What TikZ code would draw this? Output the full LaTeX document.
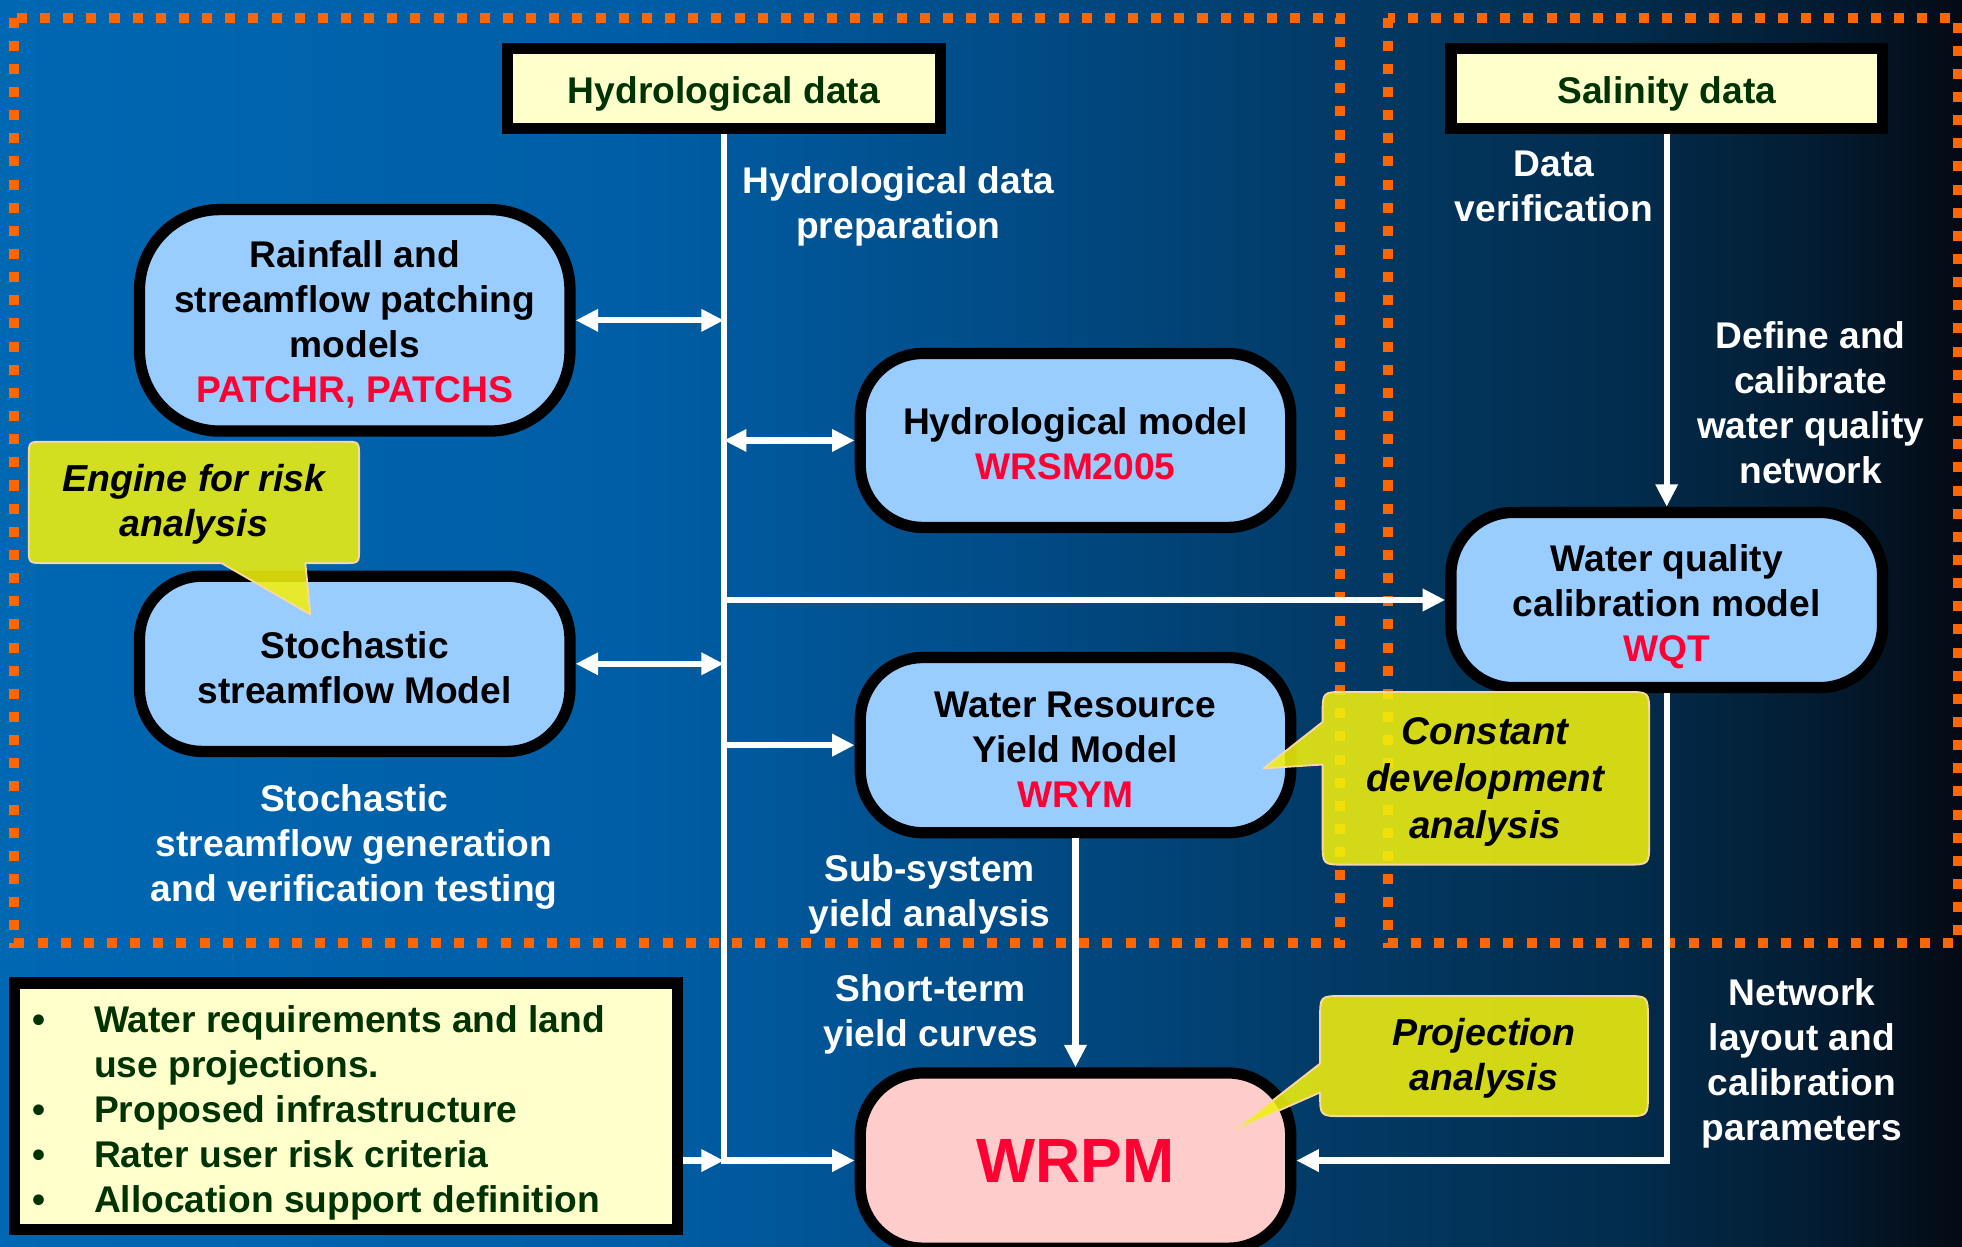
\documentclass[tikz,border=0pt]{standalone}
\usepackage{fontspec}
\setmainfont{Liberation Sans}
\usetikzlibrary{arrows.meta}
\definecolor{bgA}{RGB}{0,103,178}
\definecolor{bgB}{RGB}{0,94,166}
\definecolor{bgC}{RGB}{1,76,135}
\definecolor{bgD}{RGB}{2,56,98}
\definecolor{bgE}{RGB}{2,44,76}
\definecolor{bgF}{RGB}{3,28,50}
\definecolor{bgG}{RGB}{4,10,20}
\definecolor{lblue}{RGB}{153,204,255}
\definecolor{lyel}{RGB}{255,255,204}
\definecolor{lpink}{RGB}{255,204,204}
\definecolor{dgreen}{RGB}{0,51,0}
\definecolor{pred}{RGB}{255,0,51}
\definecolor{dotor}{RGB}{255,102,0}
\definecolor{callf}{RGB}{240,240,14}
\definecolor{callb}{RGB}{250,215,160}
\newcommand\tstr[1]{\rule{0pt}{#1pt}}
\begin{document}
\begin{tikzpicture}[x=1pt,y=-1pt,
  txt/.style={font=\fontsize{29.7}{36}\selectfont\bfseries, align=center},
  lbl/.style={txt, text=white, inner sep=0pt},
  hdr/.style={draw=black, line width=9pt, fill=lyel, minimum width=346pt, minimum height=64pt, inner sep=0pt, txt, text=dgreen},
  model/.style={draw=black, line width=9pt, fill=lblue, rounded corners=50pt, minimum width=344pt, minimum height=140pt, inner sep=0pt, txt},
  conn/.style={draw=white, line width=5pt, -{Triangle[length=18pt,width=17pt]}},
  dbl/.style={draw=white, line width=5pt, {Triangle[length=18pt,width=17pt]}-{Triangle[length=18pt,width=17pt]}},
  dotbox/.style={draw=dotor, line width=8pt, dash pattern=on 8pt off 10.5pt},
  callout/.style={fill=callf, fill opacity=0.88, draw=callb, line width=1.5pt, line join=round},
  calltxt/.style={font=\fontsize{30}{36}\selectfont\bfseries\itshape, align=center, text=black, inner sep=0pt}
]
\useasboundingbox (0,0) rectangle (1568,996);
\clip (0,0) rectangle (1568,996);
% background
\fill[left color=bgA, right color=bgB] (0,0) rectangle (501,996);
\fill[left color=bgB, right color=bgC] (500,0) rectangle (801,996);
\fill[left color=bgC, right color=bgD] (800,0) rectangle (1101,996);
\fill[left color=bgD, right color=bgE] (1100,0) rectangle (1301,996);
\fill[left color=bgE, right color=bgF] (1300,0) rectangle (1451,996);
\fill[left color=bgF, right color=bgG] (1450,0) rectangle (1568,996);
% dotted regions
\draw[dotbox] (11.5,14) rectangle (1071,754);
\draw[dotbox] (1109,14) rectangle (1565,754);
% boxes
\node[hdr] (hyd) at (578.5,70.5) {\tstr{30}Hydrological data};
\node[hdr, minimum width=345pt] (sal) at (1332,70.5) {\tstr{30}Salinity data};
\node[model, minimum height=177pt, rounded corners=64pt] (rain) at (283.5,256) {\tstr{28}Rainfall and\\streamflow patching\\models\\\textcolor{pred}{PATCHR, PATCHS}};
\node[model, minimum height=139pt] (hmod) at (859.5,352) {\tstr{26}Hydrological model\\\textcolor{pred}{WRSM2005}};
\node[model] (stoch) at (283.5,530.5) {\tstr{28}Stochastic\\streamflow Model};
\node[model, minimum width=345pt] (wq) at (1332,479.5) {\tstr{32}Water quality\\calibration model\\\textcolor{pred}{WQT}};
\node[model] (wrym) at (859.5,595.5) {\tstr{27.5}Water Resource\\Yield Model\\\textcolor{pred}{WRYM}};
\node[model, fill=lpink, font=\fontsize{50}{60}\selectfont\bfseries, text=pred] (wrpm) at (859.5,927.5) {WRPM};
\node[draw=black, line width=9pt, fill=lyel, minimum width=530pt, minimum height=197pt] (bul) at (276.5,884) {};
\node[anchor=north west, inner sep=0pt, text=dgreen, font=\fontsize{29.7}{36}\selectfont\bfseries] (bultxt) at (26,799.8)
  {\begin{tabular}{@{}p{49pt}@{}l@{}}
   \textbullet & Water requirements and land\\
    & use projections.\\
   \textbullet & Proposed infrastructure\\
   \textbullet & Rater user risk criteria\\
   \textbullet & Allocation support definition
   \end{tabular}};
% connectors
\coordinate (spine) at (hyd.south);
\draw[conn] (hyd.south) |- (wrpm.west);
\draw[dbl] (rain.east) -- (rain.east -| spine);
\draw[dbl] (hmod.west -| spine) -- (hmod.west);
\draw[conn] (wq.west -| spine) -- (wq.west);
\draw[dbl] (stoch.east) -- (stoch.east -| spine);
\draw[conn] (wrym.west -| spine) -- (wrym.west);
\draw[conn] (bul.east |- wrpm.west) -- (wrpm.west -| spine);
\draw[conn] (sal.south) -- (wq.north);
\draw[conn] (wrym.south) -- (wrpm.north);
\draw[conn] (wq.south) |- (wrpm.east);
% callouts
\path[callout] (35,353) -- (275,353) .. controls (287,353) .. (287,365) -- (287,438) .. controls (287,450) .. (275,450) -- (244,450) -- (248,491) -- (177,450) -- (35,450) .. controls (23,450) .. (23,438) -- (23,365) .. controls (23,353) .. (35,353) -- cycle;
\node[calltxt] (eng) at (155,403) {Engine for risk\\analysis};
\path[callout] (1075,553) -- (1300,553) .. controls (1318,553) .. (1318,571) -- (1318,673) .. controls (1318,691) .. (1300,691) -- (1075,691) .. controls (1057,691) .. (1057,673) -- (1057,611) -- (1010,614) -- (1057,577) -- (1057,571) .. controls (1057,553) .. (1075,553) -- cycle;
\node[calltxt, font=\fontsize{30.8}{37.5}\selectfont\bfseries\itshape] (cda) at (1187,625) {Constant\\development\\analysis};
\path[callout] (1073,796) -- (1299,796) .. controls (1317,796) .. (1317,814) -- (1317,874) .. controls (1317,892) .. (1299,892) -- (1073,892) .. controls (1055,892) .. (1055,874) -- (1055,873) -- (987,903) -- (1055,850) -- (1055,814) .. controls (1055,796) .. (1073,796) -- cycle;
\node[calltxt] (proj) at (1186,846) {Projection\\analysis};
% labels
\node[lbl] (l1) at (718,165) {Hydrological data\\preparation};
\node[lbl] (l2) at (1242,149) {Data\\verification};
\node[lbl] (l3) at (1447,322) {Define and\\calibrate\\water quality\\network};
\node[lbl] (l4) at (283,677) {Stochastic\\streamflow generation\\and verification testing};
\node[lbl] (l5) at (743,715) {Sub-system\\yield analysis};
\node[lbl] (l6) at (744,811) {Short-term\\yield curves};
\node[lbl] (l7) at (1440,850) {Network\\layout and\\calibration\\parameters};
\end{tikzpicture}
\end{document}
